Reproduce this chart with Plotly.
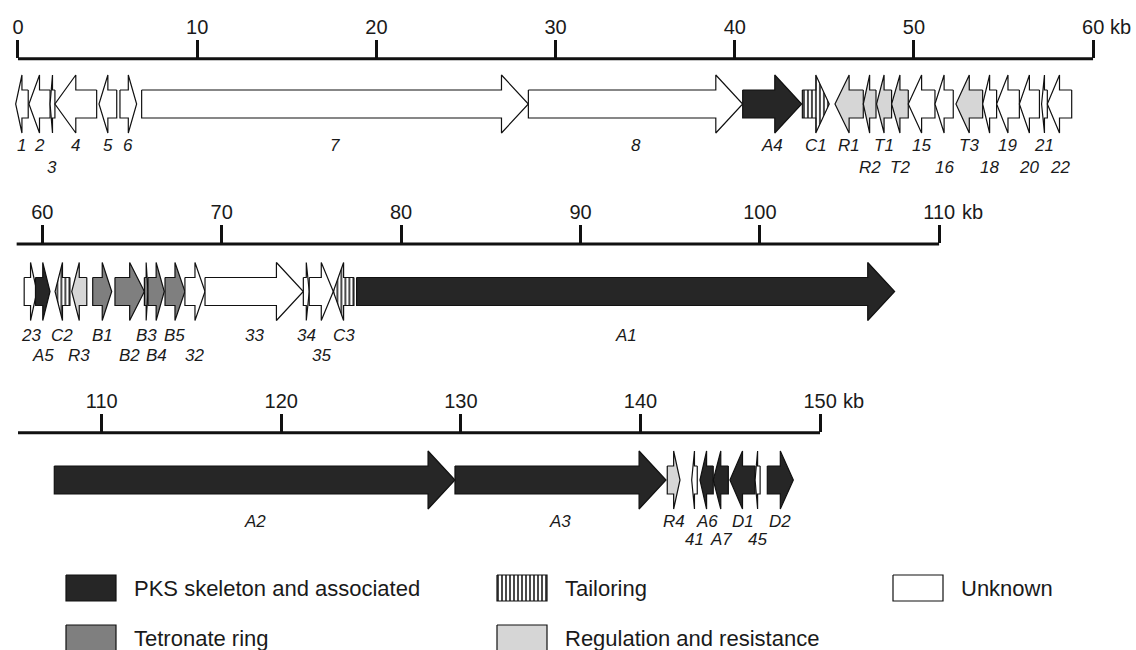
import plotly.graph_objects as go

# ---------------- DATA ----------------
# Row 1 (0-60 kb)
row1_names = ["1", "2", "3", "4", "5", "6", "7", "8", "A4", "C1", "R1", "R2", "T1", "T2",
              "15", "16", "T3", "18", "19", "20", "21", "22"]
row1_start = [-0.13, 0.61, 1.79, 2.06, 4.52, 5.69, 6.90, 28.48, 40.44, 43.77, 45.59, 47.17, 47.91, 48.75,
              49.68, 51.17, 52.34, 53.83, 54.61, 55.88, 57.12, 57.44]
row1_end = [0.57, 1.79, 2.06, 4.39, 5.51, 6.62, 28.48, 40.44, 43.73, 45.27, 47.17, 47.88, 48.75, 49.68,
            51.17, 52.19, 53.83, 54.61, 55.88, 57.00, 57.44, 58.80]
row1_strand = [-1, -1, -1, -1, -1, 1, 1, 1, 1, 1, -1, -1, -1, -1, -1, -1, -1, -1, -1, -1, -1, -1]
row1_class = ["U", "U", "U", "U", "U", "U", "U", "U", "PKS", "TAIL", "REG", "REG", "REG", "REG",
              "U", "U", "REG", "U", "U", "U", "U", "U"]
row1_line = [1, 1, 2, 1, 1, 1, 1, 1, 1, 1, 1, 2, 1, 2, 1, 2, 1, 2, 1, 2, 1, 2]

# Row 2 (60-110 kb)
row2_names = ["23", "A5", "C2", "R3", "B1", "B2", "B3", "B4", "B5", "32", "33", "34", "35", "C3", "A1"]
row2_start = [58.99, 59.62, 60.71, 61.64, 62.81, 64.05, 65.69, 65.89, 66.84, 67.95, 69.07, 74.55, 74.88, 76.22, 77.52]
row2_end = [59.70, 60.43, 61.54, 62.48, 63.87, 65.69, 65.89, 66.80, 67.95, 69.07, 74.55, 74.88, 76.22, 77.37, 107.51]
row2_strand = [1, 1, -1, -1, 1, 1, 1, 1, 1, 1, 1, 1, 1, -1, 1]
row2_class = ["U", "PKS", "TAIL", "REG", "TET", "TET", "TET", "TET", "TET", "U", "U", "U", "U", "TAIL", "PKS"]
row2_line = [1, 2, 1, 2, 1, 2, 1, 2, 1, 2, 1, 1, 2, 1, 1]

# Row 3 (110-150 kb)
row3_names = ["A2", "A3", "R4", "41", "A6", "A7", "D1", "45", "D2"]
row3_start = [107.36, 129.67, 141.49, 142.85, 143.31, 144.05, 144.98, 146.38, 147.06]
row3_end = [129.67, 141.42, 142.20, 143.16, 144.05, 144.89, 146.38, 146.66, 148.51]
row3_strand = [1, 1, 1, -1, -1, -1, -1, -1, 1]
row3_class = ["PKS", "PKS", "REG", "U", "PKS", "PKS", "PKS", "U", "PKS"]
row3_line = [1, 1, 1, 2, 1, 2, 1, 2, 1]

# Axis ticks (kb)
row1_ticks = [0, 10, 20, 30, 40, 50, 60]
row2_ticks = [60, 70, 80, 90, 100, 110]
row3_ticks = [110, 120, 130, 140, 150]

# Legend
legend_classes = ["PKS", "TAIL", "U", "TET", "REG"]
legend_labels = ["PKS skeleton and associated", "Tailoring", "Unknown", "Tetronate ring",
                 "Regulation and resistance"]

# ---------------- STYLE ----------------
W, H = 1136, 650
FONT = "Liberation Sans, Arial, sans-serif"
TXT = "#1a1a1a"
FILL = {"PKS": "#262626", "TET": "#7f7f7f", "REG": "#d6d6d6", "U": "#ffffff", "TAIL": "#ffffff"}
HEAD_MAX = 1.5
BODY_H = 14
HEAD_H = 29


def px_x(p):
    return p / W


def py(p):
    return 1 - p / H


rows = [
    dict(names=row1_names, start=row1_start, end=row1_end, strand=row1_strand, cls=row1_class,
         line=row1_line, ticks=row1_ticks, kL=-0.45, kR=60.0, ref_kb=0, ref_px=18.0, s=17.92,
         axis_y=58.7, bottom=185, center=104, lab=(145.5, 167.0), ax_from=0, ax_to=60),
    dict(names=row2_names, start=row2_start, end=row2_end, strand=row2_strand, cls=row2_class,
         line=row2_line, ticks=row2_ticks, kL=58.5, kR=110.0, ref_kb=60, ref_px=42.3, s=17.94,
         axis_y=244.0, bottom=372, center=291.5, lab=(335.0, 355.0), ax_from=58.57, ax_to=110),
    dict(names=row3_names, start=row3_start, end=row3_end, strand=row3_strand, cls=row3_class,
         line=row3_line, ticks=row3_ticks, kL=105.3, kR=150.0, ref_kb=110, ref_px=101.7, s=17.96,
         axis_y=432.7, bottom=552, center=480, lab=(521.0, 539.0), ax_from=105.34, ax_to=150),
]


def arrow(s, e, strand, c):
    L = e - s
    h = min(HEAD_MAX, 0.5 * L)
    if strand > 0:
        b = e - h
        xs = [s, b, b, e, b, b, s, s]
    else:
        b = s + h
        xs = [e, b, b, s, b, b, e, e]
    ys = [c - BODY_H, c - BODY_H, c - HEAD_H, c, c + HEAD_H, c + BODY_H, c + BODY_H, c - BODY_H]
    return xs, ys


def gene_trace(xs, ys, cls, xa, ya):
    kw = dict(x=xs, y=ys, mode="lines", fill="toself", fillcolor=FILL[cls],
              line=dict(color="#111111", width=1.2), xaxis=xa, yaxis=ya,
              hoverinfo="skip", showlegend=False)
    if cls == "TAIL":
        kw["fillpattern"] = dict(shape="|", size=4, solidity=0.38, fgcolor="#111111",
                                 bgcolor="#ffffff", fillmode="replace")
    return go.Scatter(**kw)


fig = go.Figure()
annotations = []
shapes = []
layout_axes = {}

for i, r in enumerate(rows, start=1):
    xa = "x" if i == 1 else f"x{i}"
    ya = "y" if i == 1 else f"y{i}"
    xkey = "xaxis" if i == 1 else f"xaxis{i}"
    ykey = "yaxis" if i == 1 else f"yaxis{i}"
    Lpx = r["ref_px"] + (r["kL"] - r["ref_kb"]) * r["s"]
    Rpx = r["ref_px"] + (r["kR"] - r["ref_kb"]) * r["s"]
    ticktext = [str(t) for t in r["ticks"]]
    layout_axes[xkey] = dict(domain=[px_x(Lpx), px_x(Rpx)], range=[r["kL"], r["kR"]], side="top",
                             anchor=ya, tickmode="array", tickvals=r["ticks"], ticktext=ticktext,
                             ticks="outside", ticklen=18, tickwidth=3, tickcolor="#111111",
                             ticklabelstandoff=-2,
                             showline=False, showgrid=False, zeroline=False, automargin=False,
                             tickfont=dict(family=FONT, size=20, color=TXT), fixedrange=True)
    layout_axes[ykey] = dict(domain=[py(r["bottom"]), py(r["axis_y"])],
                             range=[r["bottom"], r["axis_y"]], visible=False, anchor=xa,
                             fixedrange=True)
    shapes.append(dict(type="line", xref=xa, yref="paper", x0=r["ax_from"], x1=r["ax_to"],
                       y0=py(r["axis_y"]), y1=py(r["axis_y"]),
                       line=dict(color="#111111", width=3)))
    # "kb" after the last tick label
    annotations.append(dict(text="kb", xref=xa, yref="paper", x=r["ticks"][-1],
                            xshift=4 + 5.6 * len(str(r["ticks"][-1])),
                            y=py(r["axis_y"] - 32), xanchor="left", yanchor="middle",
                            showarrow=False, font=dict(family=FONT, size=20, color=TXT)))
    for n, s, e, st, cl, ln in zip(r["names"], r["start"], r["end"], r["strand"], r["cls"], r["line"]):
        xs, ys = arrow(s, e, st, r["center"])
        fig.add_trace(gene_trace(xs, ys, cl, xa, ya))
        annotations.append(dict(text=f"<i>{n}</i>", xref=xa, yref=ya, x=(s + e) / 2,
                                y=r["lab"][ln - 1], showarrow=False, xanchor="center",
                                yanchor="middle", font=dict(family=FONT, size=17, color=TXT)))

# Legend panel (page-pixel coordinates)
layout_axes["xaxis4"] = dict(domain=[0, 1], range=[0, W], visible=False, anchor="y4",
                             fixedrange=True)
layout_axes["yaxis4"] = dict(domain=[0, py(560)], range=[H, 560], visible=False, anchor="x4",
                             fixedrange=True)
legend_pos = [(66, 575), (497, 575), (893, 575), (66, 625), (497, 625)]
for cls, lab, (lx, ly) in zip(legend_classes, legend_labels, legend_pos):
    bw, bh = 50, 26
    xs = [lx, lx + bw, lx + bw, lx, lx]
    ys = [ly, ly, ly + bh, ly + bh, ly]
    fig.add_trace(gene_trace(xs, ys, cls, "x4", "y4"))
    annotations.append(dict(text=lab, xref="x4", yref="y4", x=lx + bw + 16, y=ly + bh / 2,
                            xanchor="left", yanchor="middle", showarrow=False,
                            font=dict(family=FONT, size=22, color=TXT)))

fig.update_layout(width=W, height=H, margin=dict(l=0, r=0, t=0, b=0),
                  paper_bgcolor="white", plot_bgcolor="rgba(0,0,0,0)",
                  shapes=shapes, annotations=annotations, showlegend=False, **layout_axes)

fig.write_html("out.html", config={"displayModeBar": False},
               post_script="document.body.style.margin='0';document.body.style.overflow='hidden';")
